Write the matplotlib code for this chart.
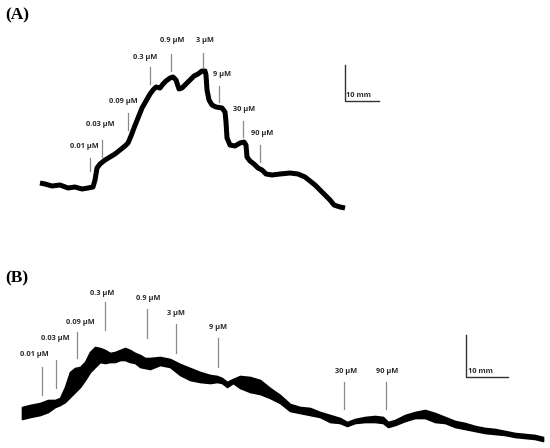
import matplotlib.pyplot as plt

# Panel A trace (recording time in px, tension in px, y grows downward)
a_time = [40, 45, 52, 60, 68, 75, 82, 88, 93, 95, 97, 100, 105, 110, 115, 120, 125, 128,
          131, 134, 138, 142, 146, 150, 153, 156, 160, 163, 166, 170, 173, 176, 179, 182,
          186, 190, 194, 198, 202, 205, 206, 207, 209, 212, 216, 222, 225, 226, 227, 230,
          235, 240, 244, 246, 247, 250, 254, 258, 262, 266, 272, 280, 290, 298, 305, 310,
          315, 320, 325, 330, 334, 340, 345]
a_tension = [183, 184, 186, 185, 188, 187, 189, 188, 187, 180, 168, 164, 160, 157, 154, 150, 146, 143,
             136, 128, 118, 108, 101, 94, 90, 87, 88, 84, 81, 78, 77, 80, 89, 88,
             84, 80, 76, 74, 71, 71, 75, 90, 100, 105, 107, 108, 112, 122, 138, 145,
             146, 143, 142, 145, 157, 161, 164, 168, 170, 174, 175, 174, 173, 174, 177, 181,
             185, 190, 195, 200, 205, 207, 208]

# Panel B trace: upper and lower edge of the noisy band
b_time = [22, 30, 40, 48, 55, 60, 65, 70, 75, 80, 85, 90, 95, 100, 105, 110, 115, 120,
          125, 130, 135, 140, 145, 150, 160, 170, 180, 190, 200, 210, 217, 222, 227, 233,
          240, 250, 260, 270, 280, 290, 300, 310, 320, 330, 340, 347, 355, 365, 375, 383,
          388, 395, 405, 415, 425, 435, 445, 455, 465, 475, 485, 495, 505, 515, 525, 535, 543]
b_upper = [407, 405, 403, 400, 400, 398, 387, 372, 368, 367, 362, 352, 347, 348, 350, 353, 352, 350,
           348, 350, 353, 355, 358, 358, 357, 359, 364, 368, 372, 375, 376, 378, 382, 379,
           376, 377, 380, 388, 395, 404, 407, 408, 412, 415, 418, 422, 419, 417, 416, 417,
           422, 420, 415, 412, 410, 413, 417, 421, 423, 426, 428, 429, 431, 433, 434, 435, 437]
b_lower = [419, 417, 415, 412, 407, 405, 402, 397, 392, 387, 380, 372, 367, 362, 363, 362, 362, 360,
           360, 362, 363, 367, 368, 369, 365, 367, 375, 380, 382, 383, 382, 383, 387, 383,
           388, 392, 394, 398, 403, 411, 413, 415, 417, 422, 423, 426, 423, 422, 422, 423,
           427, 425, 421, 418, 418, 422, 423, 427, 429, 431, 433, 434, 435, 437, 438, 439, 441]

# Drug additions: label, tick x, tick top, tick bottom, label x, label y
a_doses = ["0.01 µM", "0.03 µM", "0.09 µM", "0.3 µM", "0.9 µM", "3 µM", "9 µM", "30 µM", "90 µM"]
a_tick_x = [90, 102, 128, 150, 171, 203, 219, 243, 260]
a_tick_top = [158, 140, 113, 67, 54, 53, 86, 121, 145]
a_tick_bottom = [171, 157, 130, 84, 71, 68, 102, 137, 162]
a_label_x = [84, 100, 123, 145, 172, 205, 222, 244, 262]
a_label_y = [150, 128, 105, 61, 44, 44, 78, 113, 137]

b_doses = ["0.01 µM", "0.03 µM", "0.09 µM", "0.3 µM", "0.9 µM", "3 µM", "9 µM", "30 µM", "90 µM"]
b_tick_x = [42, 56, 77, 105, 147, 176, 218, 344, 386]
b_tick_top = [367, 360, 332, 302, 309, 324, 338, 382, 382]
b_tick_bottom = [395, 388, 358, 330, 338, 353, 367, 409, 409]
b_label_x = [34, 55, 80, 102, 148, 176, 218, 346, 387]
b_label_y = [358, 342, 326, 297, 302, 317, 331, 375, 375]

# 10 mm scale bars: corner x, top y, corner y, right x
scale_bars = [(345, 65, 101, 379), (466, 335, 377, 508)]

fig = plt.figure(figsize=(5.5, 4.48), dpi=100)
ax = fig.add_axes([0, 0, 1, 1])
ax.set_xlim(0, 550)
ax.set_ylim(448, 0)
ax.axis("off")

ax.plot(a_time, a_tension, color="black", lw=3.6, solid_joinstyle="round", solid_capstyle="butt")

ax.fill_between(b_time, b_upper, b_lower, color="black", lw=1.2, edgecolor="black")

label_font = dict(family="Open Sans", fontsize=5.3, color="#2a2a2a", fontweight="bold")

for doses, tx, t0, t1, lx, ly in [
    (a_doses, a_tick_x, a_tick_top, a_tick_bottom, a_label_x, a_label_y),
    (b_doses, b_tick_x, b_tick_top, b_tick_bottom, b_label_x, b_label_y),
]:
    for d, x, y0, y1, x2, y2 in zip(doses, tx, t0, t1, lx, ly):
        ax.plot([x, x], [y0, y1], color="#8a8a8a", lw=0.9)
        ax.text(x2, y2, d, ha="center", va="bottom", **label_font)

for cx, top, cy, rx in scale_bars:
    ax.plot([cx, cx, rx], [top, cy, cy], color="#333333", lw=1.0)
    ax.text(cx + 1.5, cy - 2, "10 mm", ha="left", va="bottom", **label_font)

ax.text(5, 15, "(A)", fontsize=12.5, fontweight="bold", family="Liberation Serif", va="center")
ax.text(5, 278, "(B)", fontsize=12.5, fontweight="bold", family="Liberation Serif", va="center")

fig.savefig("out.png", dpi=100)
